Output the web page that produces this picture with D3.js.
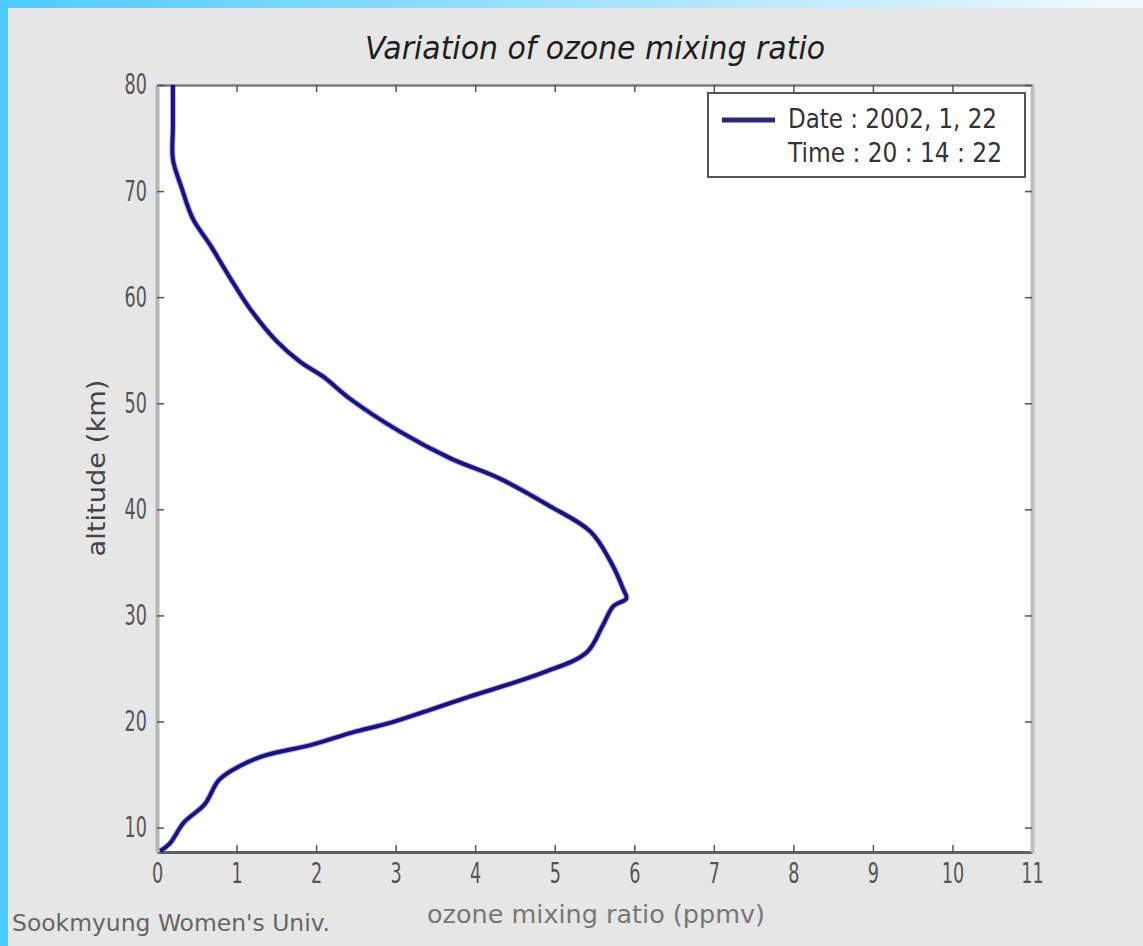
<!DOCTYPE html>
<html>
<head>
<meta charset="utf-8">
<script src="https://cdn.jsdelivr.net/npm/d3@7"></script>
<style>
  body { margin: 0; background: #e6e6e6; }
  svg { display: block; }
  .axis text { font-family: "Liberation Sans Narrow", "DejaVu Sans Condensed", "Liberation Sans", sans-serif; fill: #555; }
</style>
</head>
<body>
<svg id="chart"></svg>
<script>
// profile (altitude in km, ozone in ppmv)
const altitude = [80, 76, 73, 70.3, 67.4, 64.9, 61.8, 58.9, 55.8, 53.9, 52.5, 50.4, 47.3, 44.8, 42.9, 40.3,
  37.9, 35.1, 32.5, 31.6, 30.9, 29.0, 26.5, 24.6, 22.3, 21.2, 19.9, 19.0, 17.8, 16.8, 15.8,
  14.5, 12.2, 10.5, 8.5, 7.8];
const ozone = [0.2, 0.2, 0.2, 0.31, 0.45, 0.67, 0.92, 1.17, 1.51, 1.80, 2.09, 2.43, 3.06, 3.69, 4.31, 4.94,
  5.45, 5.70, 5.86, 5.90, 5.74, 5.60, 5.40, 4.85, 3.91, 3.47, 2.94, 2.47, 1.94, 1.36, 1.04,
  0.78, 0.60, 0.34, 0.16, 0.04];
const xTicks = [0, 1, 2, 3, 4, 5, 6, 7, 8, 9, 10, 11];
const yTicks = [10, 20, 30, 40, 50, 60, 70, 80];
const legendLines = ['Date : 2002, 1, 22', 'Time : 20 : 14 : 22'];

const FONT = '"Liberation Sans Narrow", "DejaVu Sans Condensed", sans-serif';

class ProfileVis {

  constructor(_config) {
    this.config = {
      parentElement: _config.parentElement,
      width: 1143,
      height: 946,
      plot: { left: 157, right: 1032, top: 85, bottom: 852 },
      xDomain: [0, 11],
      yDomain: [7.7, 80],
      squeeze: 0.7
    };
    this.data = altitude.map((a, i) => ({ alt: a, o3: ozone[i] }));
    this.initVis();
  }

  initVis() {
    let vis = this;
    const p = vis.config.plot;

    vis.svg = d3.select(vis.config.parentElement)
      .attr('width', vis.config.width)
      .attr('height', vis.config.height);

    // blue frame of the page (top gradient + left strip)
    const grad = vis.svg.append('defs').append('linearGradient')
      .attr('id', 'topband');
    grad.append('stop').attr('offset', '0%').attr('stop-color', '#4ccbff');
    grad.append('stop').attr('offset', '100%').attr('stop-color', '#f2f9ff');

    vis.svg.append('rect')
      .attr('width', vis.config.width).attr('height', vis.config.height)
      .attr('fill', '#e6e6e6');
    vis.svg.append('rect')
      .attr('width', vis.config.width).attr('height', 8)
      .attr('fill', 'url(#topband)');
    vis.svg.append('rect')
      .attr('width', 8).attr('height', vis.config.height)
      .attr('fill', '#4ccbff');

    vis.xScale = d3.scaleLinear().domain(vis.config.xDomain).range([p.left, p.right]);
    vis.yScale = d3.scaleLinear().domain(vis.config.yDomain).range([p.bottom, p.top]);

    vis.svg.append('rect')
      .attr('x', p.left).attr('y', p.top)
      .attr('width', p.right - p.left).attr('height', p.bottom - p.top)
      .attr('fill', '#fff');

    vis.renderVis();
  }

  renderVis() {
    let vis = this;
    const p = vis.config.plot;
    const sq = vis.config.squeeze;

    // axes, ticks pointing inward like matlab
    const xAxis = d3.axisBottom(vis.xScale).tickValues(xTicks).tickSize(-7).tickPadding(11).tickSizeOuter(0);
    const xTop = d3.axisTop(vis.xScale).tickValues(xTicks).tickSize(-7).tickFormat('').tickSizeOuter(0);
    const yAxis = d3.axisLeft(vis.yScale).tickValues(yTicks).tickSize(-7).tickSizeOuter(0);
    const yRight = d3.axisRight(vis.yScale).tickValues(yTicks).tickSize(-7).tickFormat('').tickSizeOuter(0);

    const gx = vis.svg.append('g').attr('class', 'axis x-axis')
      .attr('transform', `translate(0,${p.bottom})`).call(xAxis);
    const gt = vis.svg.append('g').attr('class', 'axis')
      .attr('transform', `translate(0,${p.top})`).call(xTop);
    const gy = vis.svg.append('g').attr('class', 'axis y-axis')
      .attr('transform', `translate(${p.left},0)`).call(yAxis);
    const gr = vis.svg.append('g').attr('class', 'axis')
      .attr('transform', `translate(${p.right},0)`).call(yRight);

    gx.select('.domain').attr('stroke', '#5f5f5f').attr('stroke-width', 3);
    gt.select('.domain').attr('stroke', '#7a7a7a').attr('stroke-width', 2.5);
    gy.select('.domain').attr('stroke', '#b5b5b5').attr('stroke-width', 4);
    gr.select('.domain').attr('stroke', '#bdbdbd').attr('stroke-width', 4);
    vis.svg.selectAll('.axis .tick line').attr('stroke', '#555').attr('stroke-width', 1.5);

    // tall narrow tick labels
    gx.selectAll('text')
      .attr('font-size', 28)
      .attr('transform', `scale(${sq},1)`);
    gy.selectAll('text')
      .attr('font-size', 28)
      .attr('x', -10 / sq)
      .attr('transform', `scale(${sq},1)`);

    // profile line
    vis.line = d3.line()
      .curve(d3.curveCatmullRom.alpha(0.5))
      .x(d => vis.xScale(d.o3))
      .y(d => vis.yScale(d.alt));

    vis.svg.append('path')
      .datum(vis.data)
      .attr('fill', 'none')
      .attr('stroke', '#5050ff')
      .attr('stroke-width', 6)
      .attr('stroke-opacity', 0.45)
      .attr('stroke-linejoin', 'round')
      .attr('d', vis.line);
    vis.svg.append('path')
      .datum(vis.data)
      .attr('fill', 'none')
      .attr('stroke', '#1a1478')
      .attr('stroke-width', 4)
      .attr('stroke-linejoin', 'round')
      .attr('d', vis.line);

    // legend
    const lg = vis.svg.append('g').attr('transform', 'translate(708,93)');
    lg.append('rect')
      .attr('width', 317).attr('height', 84)
      .attr('fill', '#fff')
      .attr('stroke', '#555').attr('stroke-width', 2);
    lg.append('line')
      .attr('x1', 14).attr('x2', 67).attr('y1', 27).attr('y2', 27)
      .attr('stroke', '#2a2a78').attr('stroke-width', 5);
    lg.selectAll('.leg-text')
      .data(legendLines)
      .join('text')
      .attr('class', 'leg-text')
      .attr('x', 80)
      .attr('y', (d, i) => 35 + i * 34)
      .attr('font-family', FONT)
      .attr('font-size', 27)
      .attr('fill', '#333')
      .attr('textLength', (d, i) => i === 0 ? 209 : 214)
      .attr('lengthAdjust', 'spacingAndGlyphs')
      .text(d => d);

    // titles
    vis.svg.append('text')
      .attr('x', 595).attr('y', 59)
      .attr('text-anchor', 'middle')
      .attr('font-family', FONT)
      .attr('font-style', 'italic')
      .attr('font-size', 32)
      .attr('fill', '#1e1e1e')
      .attr('textLength', 460)
      .attr('lengthAdjust', 'spacingAndGlyphs')
      .text('Variation of ozone mixing ratio');

    vis.svg.append('text')
      .attr('transform', 'translate(105,468) rotate(-90)')
      .attr('text-anchor', 'middle')
      .attr('font-family', FONT)
      .attr('font-size', 24)
      .attr('fill', '#444')
      .attr('textLength', 177)
      .attr('lengthAdjust', 'spacingAndGlyphs')
      .text('altitude (km)');

    vis.svg.append('text')
      .attr('x', 596).attr('y', 923)
      .attr('text-anchor', 'middle')
      .attr('font-family', FONT)
      .attr('font-size', 25)
      .attr('fill', '#777')
      .attr('textLength', 338)
      .attr('lengthAdjust', 'spacingAndGlyphs')
      .text('ozone mixing ratio (ppmv)');

    vis.svg.append('text')
      .attr('x', 12).attr('y', 931)
      .attr('font-family', FONT)
      .attr('font-size', 23)
      .attr('fill', '#666')
      .attr('textLength', 318)
      .attr('lengthAdjust', 'spacingAndGlyphs')
      .text("Sookmyung Women's Univ.");
  }
}

let profile = new ProfileVis({ parentElement: '#chart' });
</script>
</body>
</html>
